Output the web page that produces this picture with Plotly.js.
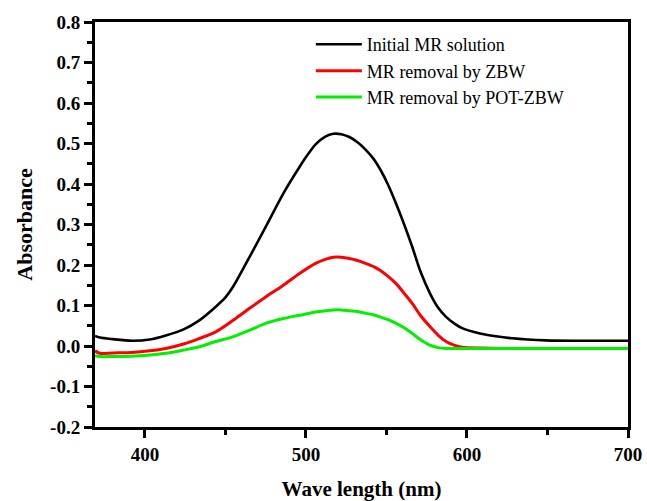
<!DOCTYPE html>
<html><head><meta charset="utf-8">
<script src="https://cdn.plot.ly/plotly-3.0.1.min.js"></script>
<style>html,body{margin:0;padding:0;background:#fff}#chart{width:647px;height:501px}</style>
</head><body><div id="chart"></div>
<script>
// Wavelength (nm) and absorbance
const wlBlack = [369, 372, 380, 392, 403, 413, 424, 434, 444, 450, 455, 465, 475, 486, 496, 501, 506, 512, 517, 522, 527, 532, 537, 542, 546, 551, 556, 561, 566, 571, 577, 582, 587, 592, 597, 608, 618, 628, 649, 670, 700];
const absBlack = [0.025, 0.021, 0.017, 0.013, 0.016, 0.026, 0.041, 0.064, 0.097, 0.120, 0.148, 0.220, 0.294, 0.377, 0.442, 0.472, 0.498, 0.517, 0.524, 0.523, 0.516, 0.503, 0.485, 0.462, 0.437, 0.398, 0.351, 0.300, 0.245, 0.185, 0.130, 0.095, 0.072, 0.056, 0.044, 0.031, 0.024, 0.019, 0.014, 0.013, 0.013];

const wlRed = [369, 372, 380, 392, 403, 413, 424, 434, 444, 455, 465, 475, 486, 496, 506, 512, 517, 522, 527, 532, 537, 542, 546, 551, 556, 561, 566, 571, 577, 582, 587, 592, 597, 608, 628, 649, 670, 700];
const absRed = [-0.012, -0.018, -0.017, -0.016, -0.012, -0.006, 0.005, 0.019, 0.035, 0.064, 0.093, 0.121, 0.150, 0.179, 0.204, 0.214, 0.219, 0.219, 0.216, 0.211, 0.204, 0.196, 0.187, 0.172, 0.154, 0.130, 0.105, 0.076, 0.048, 0.027, 0.011, 0.002, -0.003, -0.005, -0.006, -0.006, -0.006, -0.006];

const wlGreen = [369, 372, 380, 392, 403, 413, 424, 434, 444, 455, 465, 475, 486, 496, 506, 512, 517, 522, 527, 532, 537, 542, 546, 551, 556, 561, 566, 571, 577, 582, 587, 597, 608, 628, 649, 670, 700];
const absGreen = [-0.024, -0.026, -0.026, -0.025, -0.022, -0.018, -0.010, -0.002, 0.011, 0.023, 0.039, 0.056, 0.068, 0.076, 0.084, 0.087, 0.089, 0.089, 0.087, 0.085, 0.081, 0.077, 0.072, 0.065, 0.056, 0.045, 0.031, 0.016, 0.002, -0.004, -0.006, -0.006, -0.006, -0.006, -0.006, -0.006, -0.006];

const seriesNames = ["Initial MR solution", "MR removal by ZBW", "MR removal by POT-ZBW"];
const xTickVals = [400, 500, 600, 700];
const xTickText = ["400", "500", "600", "700"];
const yTickVals = [-0.2, -0.1, 0.0, 0.1, 0.2, 0.3, 0.4, 0.5, 0.6, 0.7, 0.8];
const yTickText = ["-0.2", "-0.1", "0.0", "0.1", "0.2", "0.3", "0.4", "0.5", "0.6", "0.7", "0.8"];

const traces = [
  {x: wlBlack, y: absBlack, name: seriesNames[0], mode: "lines", line: {color: "#000000", width: 2.6, shape: "spline", smoothing: 0.8}},
  {x: wlRed, y: absRed, name: seriesNames[1], mode: "lines", line: {color: "#ff0000", width: 3, shape: "spline", smoothing: 0.8}},
  {x: wlGreen, y: absGreen, name: seriesNames[2], mode: "lines", line: {color: "#00f000", width: 3, shape: "spline", smoothing: 0.8}}
];

const tickFont = {family: "Liberation Serif", size: 19, color: "#000", weight: "bold"};
const layout = {
  width: 647, height: 501,
  margin: {l: 95, r: 19, t: 22, b: 74},
  paper_bgcolor: "#fff", plot_bgcolor: "#fff",
  showlegend: true,
  legend: {x: 0.405, y: 0.99, xanchor: "left", yanchor: "top", bgcolor: "rgba(0,0,0,0)",
           font: {family: "Liberation Serif", size: 18, color: "#000"}, tracegroupgap: 0, itemwidth: 46},
  xaxis: {
    range: [369, 700], showgrid: false, zeroline: false,
    showline: true, linecolor: "#000", linewidth: 3, mirror: true,
    ticks: "outside", ticklen: 8, tickwidth: 3, tickcolor: "#000",
    tickvals: xTickVals, ticktext: xTickText,
    tickfont: tickFont,
    minor: {dtick: 50, tick0: 400, ticks: "outside", ticklen: 5, tickwidth: 3, tickcolor: "#000"},
    title: {text: "Wave length (nm)", font: {family: "Liberation Serif", size: 21, color: "#000", weight: "bold"}, standoff: 20}
  },
  yaxis: {
    range: [-0.2, 0.8], showgrid: false, zeroline: false,
    showline: true, linecolor: "#000", linewidth: 3, mirror: true,
    ticks: "outside", ticklen: 8, tickwidth: 3, tickcolor: "#000",
    tickvals: yTickVals, ticktext: yTickText,
    tickfont: tickFont,
    minor: {dtick: 0.05, tick0: 0, ticks: "outside", ticklen: 5, tickwidth: 3, tickcolor: "#000"},
    title: {text: "Absorbance", font: {family: "Liberation Serif", size: 22, color: "#000", weight: "bold"}, standoff: 12}
  }
};
Plotly.newPlot("chart", traces, layout, {displayModeBar: false, staticPlot: true});
</script></body></html>
